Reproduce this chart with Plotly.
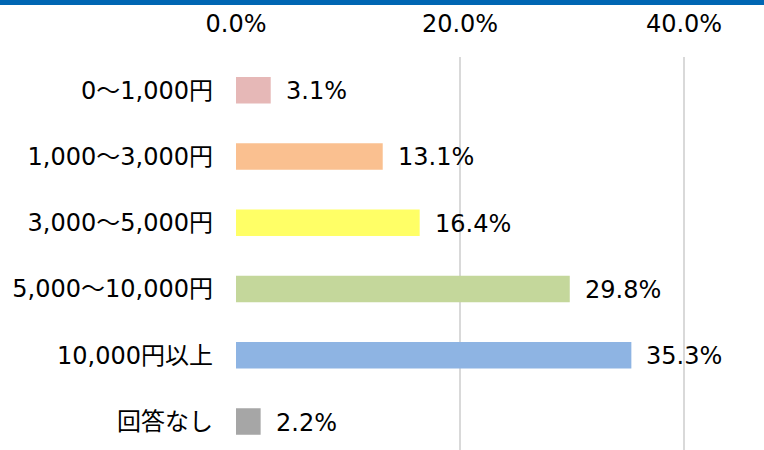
import plotly.graph_objects as go

categories = ["0～1,000円", "1,000～3,000円", "3,000～5,000円", "5,000～10,000円", "10,000円以上", "回答なし"]
values = [3.1, 13.1, 16.4, 29.8, 35.3, 2.2]
colors = ["#e6b8b7", "#fac090", "#ffff66", "#c4d79b", "#8eb4e3", "#a6a6a6"]
tick_vals = [0, 20, 40]
tick_text = ["0.0%", "20.0%", "40.0%"]

FONT = "DejaVu Sans, Noto Sans CJK JP, sans-serif"
FS = 24

fig = go.Figure(go.Bar(
    x=values, y=categories, orientation="h",
    marker=dict(color=colors, line=dict(width=0)),
    width=0.4, hoverinfo="skip",
))

for c, v in zip(categories, values):
    fig.add_annotation(x=v, y=c, text=f"{v:.1f}%", showarrow=False,
                       xanchor="left", xshift=13, yshift=-1,
                       font=dict(family=FONT, size=FS, color="#000000"))

fig.add_shape(type="rect", xref="paper", yref="paper", x0=-1, x1=2, y0=1.132, y1=1.3,
              fillcolor="#0066b3", line=dict(width=0), layer="above")

fig.update_layout(
    width=764, height=450,
    margin=dict(l=236, r=24, t=57, b=0),
    paper_bgcolor="white", plot_bgcolor="white",
    showlegend=False,
    font=dict(family=FONT, size=FS, color="#000000"),
    xaxis=dict(side="top", range=[0, 45], tickvals=tick_vals, ticktext=tick_text,
               showgrid=True, gridcolor="#d9d9d9", gridwidth=1.5,
               zeroline=False, showline=False, ticks="",
               ticklabelstandoff=19, fixedrange=True),
    yaxis=dict(type="category", categoryorder="array", categoryarray=categories,
               range=[5.43, -0.5], showgrid=False, zeroline=False, showline=False,
               ticks="", ticklabelstandoff=22, fixedrange=True),
)

fig.write_html("out.html", config={"displayModeBar": False},
               post_script="document.body.style.margin='0';document.body.style.padding='0';")
